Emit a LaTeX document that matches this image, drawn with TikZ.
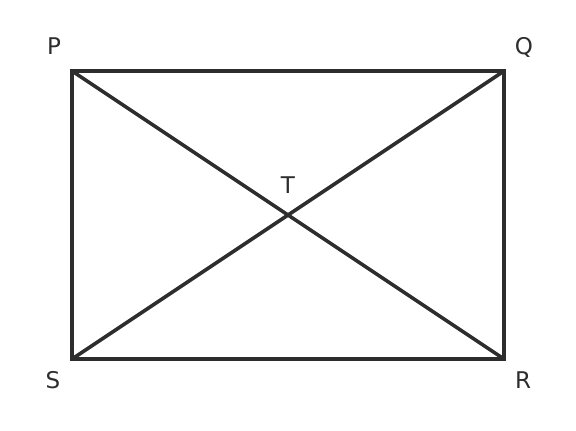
\documentclass[tikz,border=0pt]{standalone}
\usepackage{fontspec}
\setmainfont{DejaVu Sans}
\definecolor{ink}{HTML}{2D2D2D}
\begin{document}
\begin{tikzpicture}[x=1pt,y=-1pt,
  edge/.style={draw=ink,line width=3.6pt,line cap=butt,line join=miter},
  lbl/.style={text=ink,font=\fontsize{23}{25}\selectfont,inner sep=0pt,anchor=base}]
\useasboundingbox (0,0) rectangle (576,431);
\coordinate (P) at (72,71);
\coordinate (Q) at (504,71);
\coordinate (R) at (504,359);
\coordinate (S) at (72,359);
\coordinate (T) at (288,215);
\draw[edge] (P) -- (Q) -- (R) -- (S) -- cycle;
\draw[edge] (P) -- (R);
\draw[edge] (Q) -- (S);
\node[lbl] (lP) at (54,54) {P};
\node[lbl] (lQ) at (524,54) {Q};
\node[lbl] (lR) at (523,388) {R};
\node[lbl] (lS) at (53,388) {S};
\node[lbl] (lT) at (288,193) {T};
\end{tikzpicture}
\end{document}
